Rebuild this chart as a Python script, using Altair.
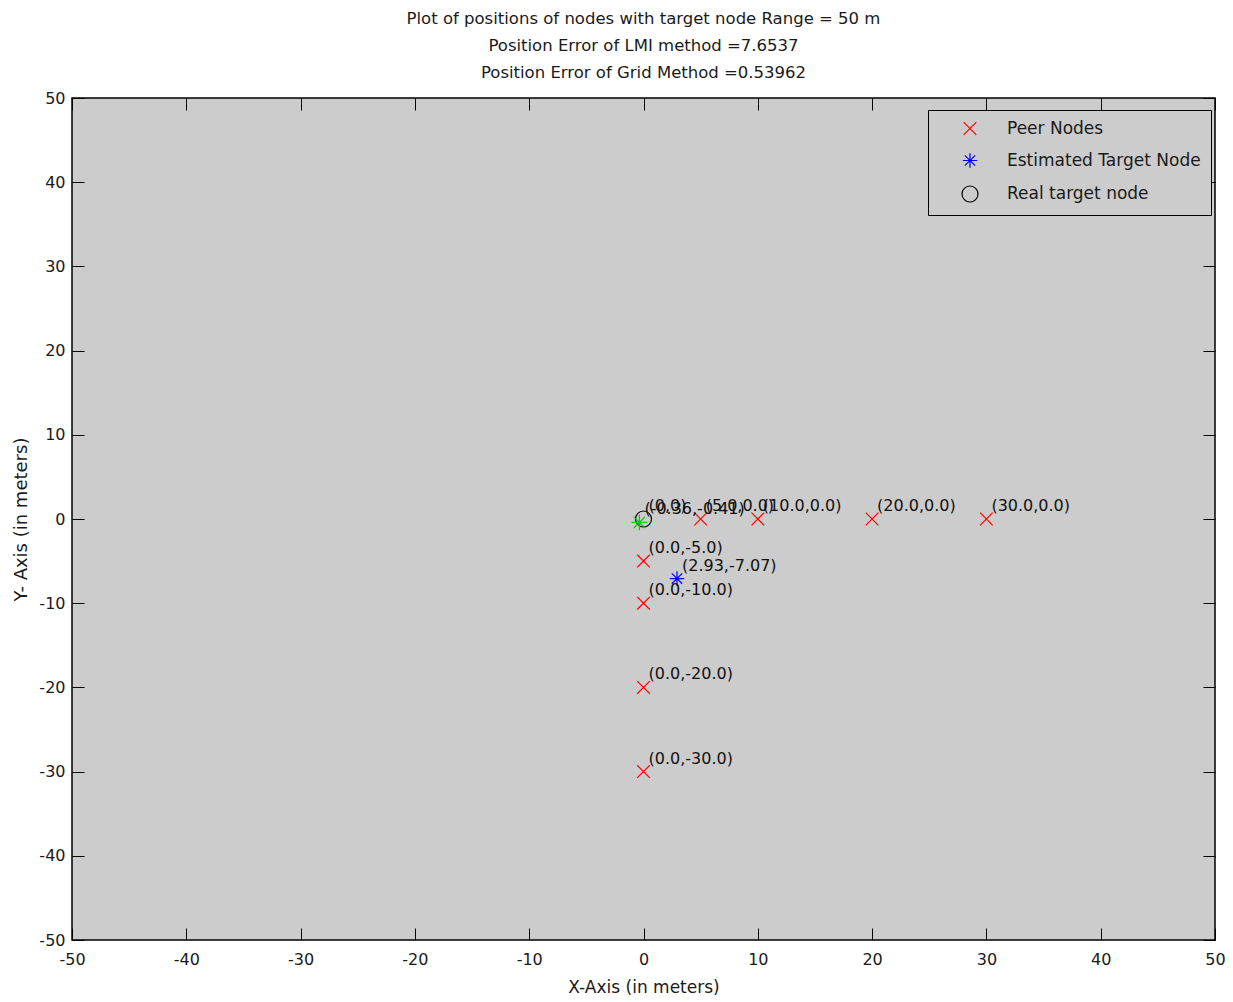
import altair as alt
import pandas as pd

# ---- data ----
peer_x = [5, 10, 20, 30, 0, 0, 0, 0]
peer_y = [0, 0, 0, 0, -5, -10, -20, -30]
peer_labels = ["(5.0,0.0)", "(10.0,0.0)", "(20.0,0.0)", "(30.0,0.0)",
               "(0.0,-5.0)", "(0.0,-10.0)", "(0.0,-20.0)", "(0.0,-30.0)"]
lmi_x = [2.93]
lmi_y = [-7.07]
lmi_labels = ["(2.93,-7.07)"]
real_x = [0]
real_y = [0]
real_labels = ["(0,0)"]
grid_x = [-0.36]
grid_y = [-0.41]
grid_labels = ["(-0.36,-0.41)"]
series_names = ["Peer Nodes", "Estimated Target Node", "Real target node"]
tick_values = list(range(-50, 51, 10))
title_lines = ["Plot of positions of nodes with target node Range = 50  m",
               "Position Error of LMI method =7.6537",
               "Position Error of Grid Method =0.53962"]

FONT = "DejaVu Sans"
BG = "#CCCCCC"
TXT = "#1a1a1a"
X_PATH = "M-1,-1L1,1M-1,1L1,-1"
STAR_PATH = "M-1,0L1,0M0,-1L0,1M-0.72,-0.72L0.72,0.72M-0.72,0.72L0.72,-0.72"

rows = []
for x, y in zip(peer_x, peer_y):
    rows.append({"x": x, "y": y, "series": series_names[0]})
for x, y in zip(lmi_x, lmi_y):
    rows.append({"x": x, "y": y, "series": series_names[1]})
for x, y in zip(real_x, real_y):
    rows.append({"x": x, "y": y, "series": series_names[2]})
pts = pd.DataFrame(rows)

lab_rows = []
for xs, ys, ls in [(peer_x, peer_y, peer_labels), (lmi_x, lmi_y, lmi_labels),
                   (real_x, real_y, real_labels), (grid_x, grid_y, grid_labels)]:
    for x, y, l in zip(xs, ys, ls):
        lab_rows.append({"x": x, "y": y, "label": l})
labs = pd.DataFrame(lab_rows)
grid_df = pd.DataFrame({"x": grid_x, "y": grid_y})

xscale = alt.Scale(domain=[-50, 50], nice=False, zero=False)
yscale = alt.Scale(domain=[-50, 50], nice=False, zero=False)

axis_common = dict(values=tick_values, offset=-12, tickSize=12, tickColor="black",
                   tickWidth=1, domain=False, grid=False, labelFont=FONT,
                   labelFontSize=16, labelColor=TXT, titleFont=FONT,
                   titleFontWeight="normal", titleColor=TXT, labelFlush=False,
                   labelOverlap=False, labelExpr="'' + datum.value")

main = alt.Chart(pts).mark_point(filled=False, strokeWidth=1.2, opacity=1).encode(
    x=alt.X("x:Q", scale=xscale,
            axis=alt.Axis(orient="bottom", title="X-Axis (in meters)", labelPadding=11,
                          titlePadding=12, titleFontSize=17, **axis_common)),
    y=alt.Y("y:Q", scale=yscale,
            axis=alt.Axis(orient="left", title="Y- Axis  (in meters)", labelPadding=7,
                          titlePadding=8, titleFontSize=18, **axis_common)),
    color=alt.Color("series:N",
                    scale=alt.Scale(domain=series_names, range=["#FF0000", "#0000FF", "#000000"]),
                    legend=alt.Legend(title=None)),
    shape=alt.Shape("series:N",
                    scale=alt.Scale(domain=series_names, range=[X_PATH, STAR_PATH, "circle"]),
                    legend=alt.Legend(title=None)),
    size=alt.Size("series:N",
                  scale=alt.Scale(domain=series_names, range=[160, 256, 150]),
                  legend=None),
)

green = alt.Chart(grid_df).mark_point(
    filled=False, shape=STAR_PATH, size=240, color="#00CC00", strokeWidth=1.2, opacity=1
).encode(
    x=alt.X("x:Q", scale=xscale,
            axis=alt.Axis(orient="top", labels=False, title=None, values=tick_values,
                          offset=-12, tickSize=12, tickColor="black", domain=False, grid=False)),
    y=alt.Y("y:Q", scale=yscale,
            axis=alt.Axis(orient="right", labels=False, title=None, values=tick_values,
                          offset=-12, tickSize=12, tickColor="black", domain=False, grid=False)),
)

text = alt.Chart(labs).mark_text(
    align="left", baseline="middle", dx=5, dy=-13, font=FONT, fontSize=16, color="#111111"
).encode(
    x=alt.X("x:Q", scale=xscale, axis=None),
    y=alt.Y("y:Q", scale=yscale, axis=None),
    text="label:N",
)

chart = alt.layer(main, text, green).resolve_axis(
    x="independent", y="independent"
).properties(
    width=1143,
    height=842,
    padding={"left": 64, "top": 90, "right": 10, "bottom": 55},
    autosize=alt.AutoSizeParams(type="none"),
    background="white",
    title=alt.TitleParams(text=title_lines, font=FONT, fontSize=16.5, fontWeight="normal",
                          color=TXT, lineHeight=27, offset=9, anchor="middle"),
).configure_view(
    fill=BG, stroke="black", strokeWidth=1.5
).configure_legend(
    orient="none", legendX=856, legendY=12, strokeColor="black", fillColor=BG,
    padding=10, labelFont=FONT, labelFontSize=17, labelColor=TXT,
    symbolSize=170, symbolStrokeWidth=1.2, symbolOffset=23, labelOffset=28,
    rowPadding=12, labelLimit=300
)

chart.save("out.html", embed_options={"renderer": "svg", "actions": False})
